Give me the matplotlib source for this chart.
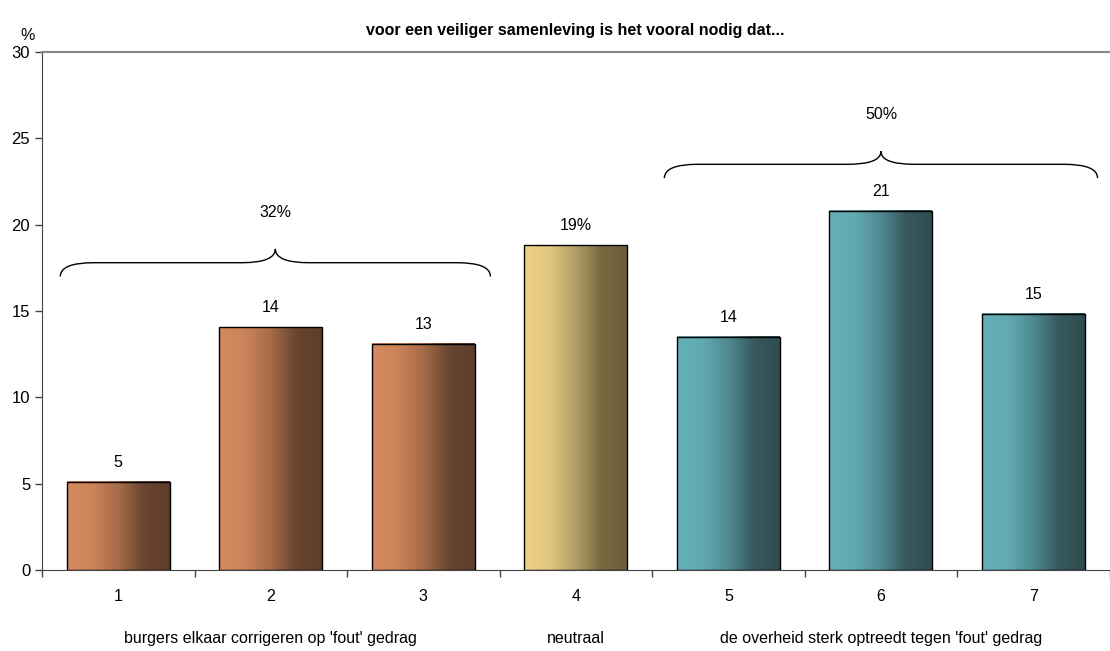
import numpy as np
import matplotlib
matplotlib.use("Agg")
import matplotlib.pyplot as plt
from matplotlib.path import Path
from matplotlib.patches import PathPatch, Rectangle
from matplotlib.colors import LinearSegmentedColormap

matplotlib.rcParams['font.family'] = ['Liberation Sans', 'DejaVu Sans']

# ---------- data ----------
categories = ["1", "2", "3", "4", "5", "6", "7"]
values = [5.1, 14.05, 13.1, 18.8, 13.5, 20.8, 14.85]
value_labels = ["5", "14", "13", "19%", "14", "21", "15"]
groups = ["orange", "orange", "orange", "yellow", "teal", "teal", "teal"]
group_names = ["burgers elkaar corrigeren op 'fout' gedrag", "neutraal",
               "de overheid sterk optreedt tegen 'fout' gedrag"]
group_name_pos = [2, 4, 6]
brace_labels = ["32%", "50%"]
brace_spans = [(0.62, 3.44), (4.58, 7.42)]
title = "voor een veiliger samenleving is het vooral nodig dat..."

# gradient colours (left -> right)
gradients = {
    "orange": ["#d6895e", "#cc845a", "#a66b48", "#6a4530", "#5e3d2c"],
    "yellow": ["#eed186", "#e2c67f", "#b39e68", "#7a6a42", "#6c5e3c"],
    "teal":   ["#66b0b8", "#62aab2", "#4f8a92", "#37595d", "#2f4d50"],
}

fig = plt.figure(figsize=(11.1, 6.51), dpi=100)
ax = fig.add_axes([0.0378, 0.1244, 0.962, 0.7956])

x = np.arange(1, len(categories) + 1)
width = 0.675
grad = np.linspace(0, 1, 256).reshape(1, -1)
for xi, v, g in zip(x, values, groups):
    cmap = LinearSegmentedColormap.from_list(g, gradients[g])
    ax.imshow(grad, cmap=cmap, aspect="auto", interpolation="bicubic",
              extent=(xi - width / 2, xi + width / 2, 0, v), zorder=2)
    ax.add_patch(Rectangle((xi - width / 2, 0), width, v, fill=False,
                           edgecolor="black", linewidth=1.0, zorder=3))

for xi, v, lab in zip(x, values, value_labels):
    ax.text(xi, v + 0.7, lab, ha="center", va="bottom", fontsize=11.5)


def brace(ax, x0, x1, y_end, y_flat, y_tip, d=0.22):
    xm = (x0 + x1) / 2
    verts = [
        (x0, y_end),
        (x0, y_flat), (x0 + d, y_flat),
        (xm - d, y_flat),
        (xm, y_flat), (xm, y_tip),
        (xm, y_flat), (xm + d, y_flat),
        (x1 - d, y_flat),
        (x1, y_flat), (x1, y_end),
    ]
    codes = [Path.MOVETO, Path.CURVE3, Path.CURVE3, Path.LINETO,
             Path.CURVE3, Path.CURVE3, Path.CURVE3, Path.CURVE3,
             Path.LINETO, Path.CURVE3, Path.CURVE3]
    ax.add_patch(PathPatch(Path(verts, codes), fill=False, lw=1.0,
                           edgecolor="black", zorder=4, clip_on=False))
    return xm


brace_levels = [(17.0, 17.8, 18.6), (22.7, 23.5, 24.25)]
for (x0, x1), (ye, yf, yt), lab in zip(brace_spans, brace_levels, brace_labels):
    xm = brace(ax, x0, x1, ye, yf, yt)
    ax.text(xm, yt + 1.7, lab, ha="center", va="bottom", fontsize=11.5)

ax.set_xlim(0.5, len(categories) + 0.5)
ax.set_ylim(0, 30)
ax.set_yticks(range(0, 31, 5))
ax.set_xticks(x)
ax.set_xticklabels(categories)
ax.set_xticks(np.arange(0.5, len(categories) + 1, 1), minor=True)
ax.tick_params(axis="x", which="major", length=0, labelsize=11.5, pad=14)
ax.tick_params(axis="x", which="minor", length=5, width=1, color="#444444")
ax.tick_params(axis="y", length=5, width=1, labelsize=12, color="#444444")

ax.spines["right"].set_visible(False)
ax.spines["top"].set_color("#888888")
ax.spines["top"].set_linewidth(1.5)
ax.spines["left"].set_color("#444444")
ax.spines["bottom"].set_color("#444444")

for gx, name in zip(group_name_pos, group_names):
    ax.text(gx, -3.95, name, ha="center", va="center", fontsize=11.5)

fig.text(0.518, 0.953, title, ha="center", va="center", fontsize=11.5,
         fontweight="bold")
fig.text(0.025, 0.945, "%", ha="center", va="center", fontsize=11.5)

fig.savefig("out.png", dpi=100)
